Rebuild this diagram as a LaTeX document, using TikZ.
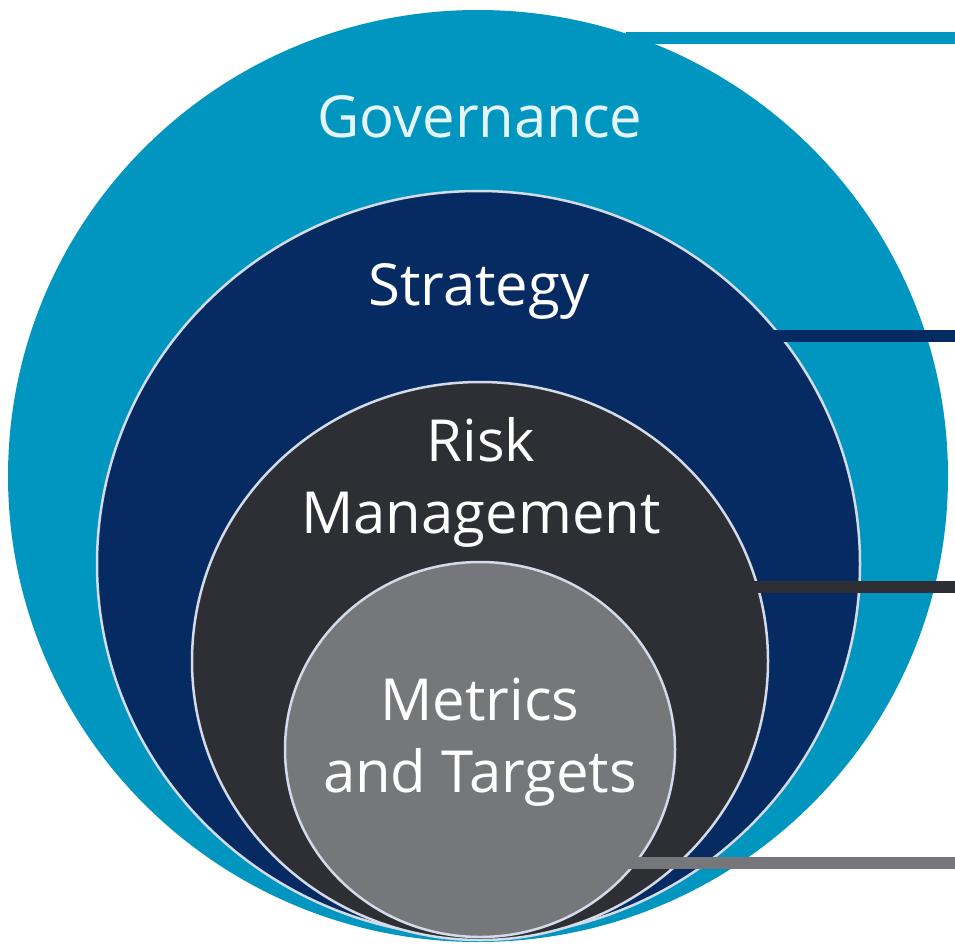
\documentclass[tikz,border=0pt]{standalone}
\usepackage{fontspec}
\setmainfont{Open Sans}
\usepackage{xcolor}
\usetikzlibrary{shapes.geometric}
\definecolor{govblue}{HTML}{0096BF}
\definecolor{stratnavy}{HTML}{062B63}
\definecolor{riskdark}{HTML}{2E2F35}
\definecolor{metrgray}{HTML}{76777B}
\definecolor{rimwhite}{HTML}{D3DAE8}
\definecolor{govtext}{HTML}{E4F6FB}

\begin{document}
\begin{tikzpicture}[
  x=1pt, y=-1pt,
  ring/.style={ellipse,inner sep=0pt,outer sep=0pt},
  rim/.style={ring,draw=rimwhite,line width=2.5pt},
  lead/.style={line width=12pt,shorten <=-12pt},
  lbl/.style={anchor=base,align=center,inner sep=0pt,text=white,
    font=\fontsize{58}{72}\selectfont}
]
\useasboundingbox (0,0) rectangle (955,945);
% nested rings
\node[ring,fill=govblue,minimum width=940pt,minimum height=932pt] (gov) at (478,476) {};
\node[rim,fill=stratnavy,minimum width=763pt,minimum height=746pt] (strat) at (478.5,564) {};
\node[rim,fill=riskdark,minimum width=576pt,minimum height=558pt] (risk) at (480,661) {};
\node[rim,fill=metrgray,minimum width=390pt,minimum height=375pt] (metr) at (480,749.5) {};
% leader lines to the right edge
\coordinate (edge) at (955,0);
\draw[lead,govblue] (gov.70) -- (gov.70 -| edge);
\draw[lead,stratnavy] (strat.37) -- (strat.37 -| edge);
\draw[lead,riskdark] (risk.15) -- (risk.15 -| edge);
\draw[lead,metrgray] (metr.324) -- (metr.324 -| edge);
% labels (base = last line)
\node[lbl,text=govtext] (govlbl) at (480,137) {Governance};
\node[lbl] (stratlbl) at (479,305) {Strategy};
\node[lbl] (risklbl) at (481,533) {Risk\\Management};
\node[lbl] (metrlbl) at (480,792) {Metrics\\and Targets};
\end{tikzpicture}
\end{document}
